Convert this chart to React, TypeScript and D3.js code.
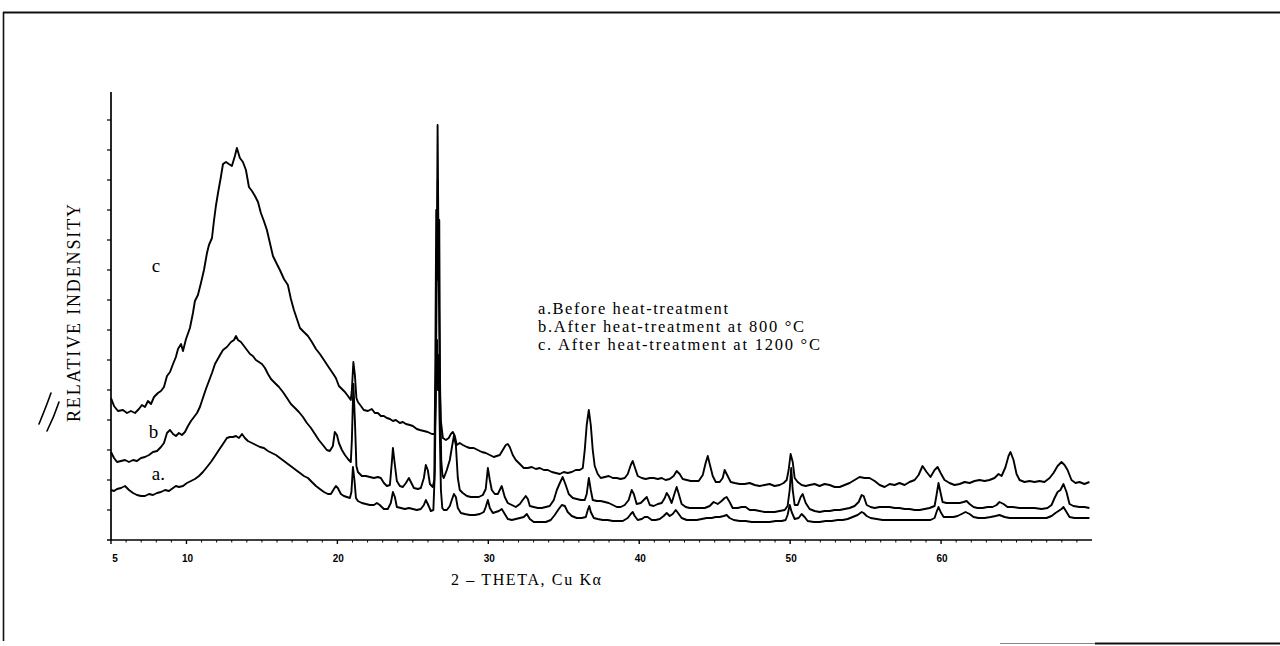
import React from "react";
import * as d3 from "d3";

// X-ray diffraction patterns: [2θ (deg), relative intensity (counts)]
const seriesA: [number, number][] = [
  [5.0, 50], [5.2, 49], [5.4, 51], [5.66, 52], [5.93, 54], [6.19, 50], [6.46, 47], [6.72, 45], [6.99, 44], [7.25, 44],
  [7.52, 46], [7.78, 45], [8.05, 47], [8.31, 48], [8.58, 50], [8.84, 49], [9.11, 52], [9.3, 54], [9.5, 53], [9.77, 54],
  [10.03, 57], [10.3, 59], [10.56, 61], [10.83, 64], [11.09, 68], [11.36, 73], [11.62, 78], [11.89, 84], [12.15, 90],
  [12.42, 96], [12.68, 102], [12.88, 103], [13.08, 103], [13.28, 104], [13.48, 102], [13.68, 106], [13.87, 102],
  [14.07, 99], [14.34, 97], [14.6, 95], [14.87, 93], [15.13, 92], [15.4, 89], [15.66, 87], [15.93, 85], [16.19, 82],
  [16.46, 79], [16.72, 76], [16.99, 73], [17.25, 70], [17.52, 67], [17.78, 64], [18.05, 62], [18.31, 58], [18.58, 54],
  [18.84, 51], [19.11, 48], [19.37, 46], [19.57, 46], [19.77, 51], [19.9, 54], [20.03, 52], [20.23, 46], [20.43, 44],
  [20.63, 43], [20.83, 42], [20.93, 48], [21.03, 73], [21.13, 60], [21.23, 42], [21.36, 39], [21.62, 37], [21.89, 36],
  [22.15, 35], [22.42, 35], [22.62, 37], [22.81, 35], [23.08, 31], [23.34, 31], [23.54, 37], [23.68, 48], [23.81, 43],
  [23.94, 33], [24.21, 32], [24.47, 31], [24.74, 32], [25.0, 31], [25.26, 30], [25.53, 31], [25.73, 35], [25.86, 40],
  [25.99, 36], [26.19, 29], [26.36, 30], [26.46, 70], [26.53, 170], [26.6, 200], [26.66, 150], [26.71, 185],
  [26.77, 120], [26.86, 50], [26.95, 32], [27.05, 30], [27.25, 30], [27.45, 34], [27.58, 40], [27.72, 46], [27.85, 43],
  [27.98, 32], [28.18, 27], [28.44, 26],
  [28.77, 25], [29.11, 25], [29.44, 26], [29.7, 28], [29.83, 33], [29.97, 40], [30.1, 32], [30.3, 27], [30.5, 28],
  [30.7, 29], [30.89, 31], [31.09, 26], [31.29, 21], [31.56, 20], [31.82, 21], [32.09, 22], [32.35, 23], [32.55, 26],
  [32.75, 21], [33.01, 18], [33.41, 18], [33.81, 18], [34.14, 20], [34.4, 25], [34.67, 31], [34.87, 35], [35.07, 34],
  [35.26, 28], [35.53, 24], [35.86, 22], [36.19, 22], [36.46, 23], [36.59, 30], [36.69, 34], [36.79, 28], [36.99, 22],
  [37.25, 21], [37.58, 20], [37.91, 20], [38.25, 19], [38.58, 19], [38.91, 19], [39.24, 22], [39.44, 26], [39.57, 28],
  [39.7, 24], [39.9, 20], [40.17, 21], [40.36, 23], [40.56, 23], [40.83, 20], [41.09, 20], [41.36, 21], [41.62, 24],
  [41.82, 27], [42.02, 24], [42.22, 26], [42.42, 30], [42.62, 26], [42.81, 22], [43.15, 20], [43.48, 20], [43.81, 20],
  [44.14, 21], [44.47, 22], [44.8, 22], [45.07, 23], [45.33, 23], [45.6, 24], [45.79, 25], [45.99, 22], [46.26, 20],
  [46.66, 19], [47.05, 19], [47.45, 18], [47.85, 18], [48.25, 18], [48.64, 18], [49.04, 19], [49.44, 19], [49.7, 20],
  [49.83, 25], [49.97, 35], [50.1, 28], [50.3, 21], [50.56, 22], [50.76, 26], [50.96, 23], [51.16, 19], [51.56, 18],
  [51.95, 18], [52.35, 19], [52.75, 19], [53.15, 20], [53.48, 20], [53.81, 21], [54.14, 23], [54.47, 25], [54.74, 28],
  [54.87, 27], [55.07, 24], [55.33, 22], [55.73, 21], [56.13, 20], [56.59, 20], [57.05, 20], [57.52, 20], [57.98, 20],
  [58.44, 20], [58.91, 20], [59.3, 20], [59.57, 22], [59.7, 28], [59.83, 33], [59.97, 28], [60.17, 23], [60.5, 23],
  [60.83, 23], [61.09, 24], [61.36, 26], [61.62, 28], [61.89, 26], [62.15, 23], [62.48, 22], [62.88, 22], [63.28, 23],
  [63.61, 24], [63.87, 25], [64.21, 23], [64.54, 22], [65.0, 22], [65.53, 22], [66.06, 22], [66.52, 22], [66.99, 22],
  [67.32, 24], [67.58, 27], [67.78, 29], [67.98, 31], [68.11, 33], [68.31, 28], [68.51, 23], [68.84, 22], [69.3, 22],
  [69.83, 22],
];

const seriesB: [number, number][] = [
  [5.0, 88], [5.2, 82], [5.4, 78], [5.66, 79], [5.93, 80], [6.19, 78], [6.46, 80], [6.72, 79], [6.99, 82], [7.25, 83],
  [7.52, 85], [7.78, 88], [8.05, 89], [8.31, 93], [8.51, 97], [8.71, 107], [8.91, 110], [9.11, 106], [9.3, 104],
  [9.5, 107], [9.7, 105], [9.9, 108], [10.1, 114], [10.3, 119], [10.5, 123], [10.7, 127], [10.89, 133], [11.09, 142],
  [11.29, 151], [11.49, 159], [11.69, 167], [11.89, 176], [12.15, 183], [12.42, 190], [12.68, 193], [12.95, 198],
  [13.15, 200], [13.28, 204], [13.41, 200], [13.61, 198], [13.81, 194], [14.01, 190], [14.21, 186], [14.4, 184],
  [14.6, 180], [14.8, 178], [15.0, 176], [15.2, 172], [15.4, 166], [15.6, 161], [15.86, 157], [16.13, 153], [16.39, 148],
  [16.66, 142], [16.92, 136], [17.19, 132], [17.45, 128], [17.72, 123], [17.98, 117], [18.25, 112], [18.51, 106],
  [18.77, 100], [19.04, 95], [19.3, 90], [19.5, 89], [19.7, 94], [19.83, 108], [19.97, 105], [20.1, 97], [20.3, 90],
  [20.5, 85], [20.7, 81], [20.89, 78], [20.96, 100], [21.06, 156], [21.16, 120], [21.26, 74], [21.36, 68], [21.62, 64],
  [21.89, 64], [22.15, 63], [22.42, 62], [22.68, 63], [22.88, 62], [23.08, 57], [23.28, 54], [23.48, 55], [23.61, 78],
  [23.68, 92], [23.81, 75], [23.94, 59], [24.14, 54], [24.34, 53], [24.54, 57], [24.74, 62], [24.87, 58], [25.07, 52],
  [25.33, 51], [25.53, 52], [25.73, 62], [25.86, 75], [25.99, 70], [26.13, 56], [26.32, 53], [26.42, 60], [26.49, 180],
  [26.55, 330], [26.6, 260], [26.65, 360], [26.7, 280], [26.75, 320], [26.8, 160], [26.88, 80], [26.96, 65],
  [27.05, 62], [27.25, 70], [27.45, 80],
  [27.58, 92], [27.72, 104], [27.85, 95], [27.98, 62], [28.11, 50], [28.31, 47], [28.58, 44], [28.84, 43], [29.11, 43],
  [29.37, 43], [29.64, 45], [29.83, 51], [29.97, 72], [30.1, 60], [30.23, 50], [30.43, 46], [30.63, 46], [30.76, 50],
  [30.89, 54], [31.09, 43], [31.29, 37], [31.56, 35], [31.82, 33], [32.09, 36], [32.28, 40], [32.48, 44], [32.62, 41],
  [32.75, 34], [33.01, 33], [33.28, 32], [33.54, 32], [33.81, 33], [34.07, 34], [34.34, 40], [34.54, 50], [34.74, 57],
  [34.93, 63], [35.13, 55], [35.33, 46], [35.6, 42], [35.86, 41], [36.13, 40], [36.39, 40], [36.52, 46], [36.66, 62],
  [36.79, 50], [36.92, 40], [37.19, 39], [37.45, 39], [37.72, 38], [37.98, 37], [38.25, 35], [38.51, 33], [38.77, 33],
  [39.04, 35], [39.3, 40], [39.5, 50], [39.64, 46], [39.83, 36], [40.1, 37], [40.3, 40], [40.5, 43], [40.7, 35],
  [40.96, 34], [41.23, 36], [41.49, 37], [41.69, 42], [41.82, 47], [41.95, 44], [42.15, 37], [42.35, 47], [42.48, 53],
  [42.62, 46], [42.81, 36], [43.08, 33], [43.34, 32], [43.68, 32], [44.01, 32], [44.34, 32], [44.67, 34], [44.93, 38],
  [45.2, 36], [45.46, 39], [45.66, 42], [45.79, 43], [45.99, 38], [46.19, 32], [46.52, 32], [46.79, 33], [47.05, 33],
  [47.32, 30], [47.65, 30], [47.98, 29], [48.31, 28], [48.64, 28], [48.97, 28], [49.3, 29], [49.64, 30], [49.83, 34],
  [49.97, 50], [50.07, 72], [50.17, 50], [50.3, 35], [50.5, 35], [50.7, 43], [50.83, 46], [51.03, 37], [51.29, 31],
  [51.62, 29], [51.95, 28], [52.28, 29], [52.62, 29], [52.95, 30], [53.28, 30], [53.61, 31], [53.94, 32], [54.27, 34],
  [54.54, 38], [54.74, 45], [54.87, 44], [55.07, 35], [55.33, 33], [55.6, 32], [55.93, 33], [56.26, 33], [56.59, 33],
  [56.92, 32], [57.25, 32], [57.58, 31], [57.91, 31], [58.25, 30], [58.58, 30], [58.91, 31], [59.24, 32], [59.57, 34],
  [59.7, 45], [59.83, 57], [59.97, 47], [60.1, 38], [60.36, 37], [60.63, 37], [60.89, 37], [61.23, 37], [61.49, 38],
  [61.69, 39], [61.89, 36], [62.15, 33], [62.42, 32], [62.75, 32], [63.08, 33], [63.41, 33], [63.68, 35], [63.87, 38],
  [64.14, 36], [64.4, 33], [64.74, 33], [65.2, 32], [65.73, 32], [66.19, 32], [66.66, 31], [67.05, 32], [67.32, 35],
  [67.52, 42], [67.72, 48], [67.91, 50], [68.11, 56], [68.31, 48], [68.51, 36], [68.77, 34], [69.17, 33], [69.5, 33],
  [69.83, 32],
];

const seriesC: [number, number][] = [
  [5.0, 142], [5.2, 134], [5.46, 129], [5.79, 130], [6.06, 127], [6.32, 129], [6.59, 127], [6.85, 131], [7.05, 135],
  [7.25, 133], [7.45, 139], [7.65, 136], [7.85, 143], [8.11, 147], [8.31, 149], [8.51, 153], [8.71, 164], [8.91, 168],
  [9.11, 176], [9.3, 183], [9.44, 191], [9.64, 196], [9.77, 189], [9.97, 201], [10.23, 212], [10.43, 227], [10.56, 239],
  [10.76, 245], [10.96, 257], [11.16, 270], [11.36, 287], [11.49, 295], [11.69, 302], [11.82, 319], [11.95, 334],
  [12.09, 347], [12.28, 363], [12.42, 376], [12.62, 378], [12.81, 376], [13.01, 374], [13.21, 384], [13.34, 392],
  [13.54, 382], [13.74, 378], [13.94, 370], [14.14, 353], [14.34, 349], [14.54, 344], [14.74, 338], [14.93, 327],
  [15.13, 319], [15.33, 310], [15.53, 297], [15.73, 284], [15.99, 276], [16.19, 270], [16.46, 261], [16.72, 255],
  [16.92, 241], [17.12, 230], [17.32, 221], [17.52, 212], [17.78, 208], [18.05, 204], [18.31, 198], [18.58, 191],
  [18.84, 186], [19.11, 180], [19.37, 174], [19.64, 168], [19.9, 162], [20.1, 154], [20.3, 151], [20.5, 148],
  [20.7, 144], [20.89, 140], [20.96, 150], [21.06, 178], [21.16, 165], [21.26, 142], [21.36, 138], [21.56, 134],
  [21.75, 130], [22.02, 129], [22.28, 131], [22.48, 127], [22.68, 127], [22.88, 124], [23.08, 124], [23.28, 122],
  [23.48, 121], [23.68, 119], [23.87, 120], [24.14, 117], [24.34, 118], [24.54, 116], [24.8, 115], [25.0, 114],
  [25.26, 111], [25.46, 110], [25.73, 109], [25.99, 108], [26.26, 106], [26.46, 106], [26.52, 140], [26.59, 280],
  [26.64, 415], [26.7, 290], [26.79, 150], [26.85, 120], [26.99, 102], [27.19, 100], [27.38, 102], [27.52, 106],
  [27.65, 108], [27.78, 104], [27.91, 95], [28.11, 97], [28.31, 95], [28.58, 93], [28.77, 92], [29.04, 92], [29.3, 90],
  [29.57, 88], [29.83, 87], [30.1, 85], [30.36, 83], [30.56, 84], [30.76, 85], [30.96, 90], [31.16, 95], [31.29, 96],
  [31.42, 93], [31.62, 85], [31.82, 80], [32.09, 76], [32.35, 72], [32.62, 72], [32.88, 73], [33.15, 71], [33.41, 72],
  [33.68, 70], [33.94, 70], [34.21, 68], [34.47, 67], [34.74, 66], [35.0, 68], [35.26, 67], [35.53, 68], [35.79, 70],
  [36.06, 70], [36.26, 72], [36.39, 90], [36.52, 115], [36.66, 130], [36.79, 115], [36.92, 90], [37.05, 74], [37.25, 66],
  [37.45, 62], [37.72, 63], [37.98, 64], [38.25, 62], [38.51, 62], [38.77, 61], [39.04, 62], [39.24, 66], [39.44, 75],
  [39.57, 79], [39.7, 73], [39.9, 64], [40.17, 62], [40.43, 61], [40.7, 62], [40.96, 62], [41.23, 61], [41.49, 62],
  [41.75, 60], [42.02, 61], [42.28, 64], [42.48, 69], [42.68, 66], [42.88, 61], [43.15, 60], [43.41, 59], [43.68, 59],
  [43.94, 59], [44.21, 65], [44.4, 77], [44.54, 84], [44.67, 76], [44.87, 64], [45.07, 58], [45.33, 58], [45.53, 62],
  [45.66, 70], [45.86, 64], [46.06, 58], [46.32, 57], [46.66, 56], [46.99, 56], [47.32, 57], [47.65, 55], [47.98, 54],
  [48.31, 55], [48.64, 56], [48.97, 54], [49.3, 55], [49.57, 57], [49.77, 60], [49.9, 70], [50.03, 86], [50.17, 78],
  [50.3, 62], [50.5, 58], [50.76, 55], [51.03, 54], [51.29, 55], [51.62, 56], [51.95, 54], [52.28, 56], [52.62, 55],
  [52.95, 53], [53.28, 53], [53.61, 55], [53.94, 57], [54.27, 60], [54.6, 63], [54.93, 62], [55.26, 62], [55.6, 59],
  [55.93, 55], [56.26, 53], [56.59, 56], [56.92, 55], [57.25, 57], [57.58, 55], [57.91, 58], [58.25, 60], [58.51, 65],
  [58.77, 74], [59.04, 68], [59.3, 63], [59.57, 70], [59.77, 73], [59.97, 67], [60.23, 60], [60.56, 57], [60.89, 55],
  [61.23, 56], [61.56, 58], [61.89, 57], [62.22, 59], [62.55, 60], [62.88, 59], [63.21, 60], [63.54, 62], [63.81, 66],
  [64.01, 64], [64.27, 73], [64.47, 84], [64.6, 88], [64.8, 80], [65.0, 66], [65.2, 60], [65.53, 58], [65.86, 59],
  [66.19, 58], [66.52, 59], [66.85, 58], [67.19, 62], [67.45, 67], [67.72, 74], [67.98, 78], [68.18, 75], [68.38, 70],
  [68.64, 60], [68.91, 57], [69.17, 58], [69.5, 56], [69.83, 58],
];

const xTickValues = [5, 10, 20, 30, 40, 50, 60];
const xTickLabels = ["5", "10", "20", "30", "40", "50", "60"];
const yTickValues = d3.range(30, 450, 30);

const curveLabels = [
  { text: "c", theta: 7.7, value: 268 },
  { text: "b", theta: 7.5, value: 102 },
  { text: "a.", theta: 7.7, value: 60 },
];

const legendLines = [
  "a.Before heat-treatment",
  "b.After heat-treatment at  800 \u00b0C",
  "c. After heat-treatment at  1200 \u00b0C",
];
const legendWidths = [190, 266, 282];

export default function App() {
  const width = 1280;
  const height = 646;
  const x = d3.scaleLinear().domain([5, 70]).range([111, 1092]);
  const y = d3.scaleLinear().domain([0, 450]).range([540, 90]);
  const line = d3
    .line<[number, number]>()
    .x((d) => x(d[0]))
    .y((d) => y(d[1]));

  const minorTicks = d3.range(6, 70, 1).filter((v) => !xTickValues.includes(v));
  const serif = "'Liberation Serif', 'Times New Roman', serif";
  const sans = "'Liberation Sans', Arial, sans-serif";

  return (
    <svg
      width={width}
      height={height}
      viewBox={`0 0 ${width} ${height}`}
      style={{ position: "absolute", left: 0, top: 0, display: "block", background: "#fff" }}
    >
      <rect x={0} y={0} width={width} height={height} fill="#fff" />

      {/* page frame */}
      <line x1={3} y1={12.5} x2={1280} y2={12.5} stroke="#111" strokeWidth={2} />
      <line x1={3.5} y1={12} x2={3.5} y2={641} stroke="#111" strokeWidth={1.6} />
      <line x1={1000} y1={643.5} x2={1095} y2={643.5} stroke="#888" strokeWidth={1} />
      <line x1={1095} y1={643.5} x2={1280} y2={643.5} stroke="#111" strokeWidth={2} />

      {/* y axis */}
      <line x1={x(5)} y1={y(448)} x2={x(5)} y2={y(0)} stroke="#000" strokeWidth={1.7} />
      {yTickValues.map((v) => (
        <line key={`yt${v}`} x1={x(5) - 4} y1={y(v)} x2={x(5)} y2={y(v)} stroke="#000" strokeWidth={1.2} />
      ))}

      {/* x axis */}
      <line x1={x(5) - 4} y1={y(0)} x2={x(70)} y2={y(0)} stroke="#000" strokeWidth={1.7} />
      {minorTicks.map((v) => (
        <line key={`xm${v}`} x1={x(v)} y1={y(0)} x2={x(v)} y2={y(0) + 2.5} stroke="#000" strokeWidth={1} />
      ))}
      {xTickValues.map((v, i) => (
        <g key={`xt${v}`}>
          <line x1={x(v)} y1={y(0)} x2={x(v)} y2={y(0) + 4} stroke="#000" strokeWidth={1.4} />
          <text
            x={x(v) + (v === 5 ? 4 : 1)}
            y={y(0) + 22}
            textAnchor="middle"
            fontFamily={sans}
            fontWeight="bold"
            fontSize={10}
            fill="#000"
          >
            {xTickLabels[i]}
          </text>
        </g>
      ))}

      {/* diffraction traces */}
      {[seriesA, seriesB, seriesC].map((s, i) => (
        <path
          key={`s${i}`}
          d={line(s) || ""}
          fill="none"
          stroke="#000"
          strokeWidth={1.9}
          strokeLinejoin="round"
        />
      ))}

      {/* trace labels */}
      {curveLabels.map((l) => (
        <text key={l.text} x={x(l.theta)} y={y(l.value)} fontFamily={serif} fontSize={19} fill="#000">
          {l.text}
        </text>
      ))}

      {/* legend */}
      {legendLines.map((t, i) => (
        <text
          key={`lg${i}`}
          x={538}
          y={314 + i * 18}
          fontFamily={serif}
          fontSize={16.5}
          textLength={legendWidths[i]}
          fill="#000"
        >
          {t}
        </text>
      ))}

      {/* axis titles */}
      <text
        x={526}
        y={585}
        textAnchor="middle"
        fontFamily={serif}
        fontSize={16}
        textLength={150}
        fill="#000"
      >
        2 – THETA, Cu Kα
      </text>
      <text
        transform="translate(80,313) rotate(-90)"
        textAnchor="middle"
        fontFamily={serif}
        fontSize={18}
        textLength={218}
        fill="#000"
      >
        RELATIVE INDENSITY
      </text>

      {/* hand-drawn marks beside the axis title */}
      <path d="M51 393 Q46 407 39 424" fill="none" stroke="#000" strokeWidth={1.6} strokeLinecap="round" />
      <path d="M59 402 Q54 417 47 431" fill="none" stroke="#000" strokeWidth={1.6} strokeLinecap="round" />
    </svg>
  );
}
